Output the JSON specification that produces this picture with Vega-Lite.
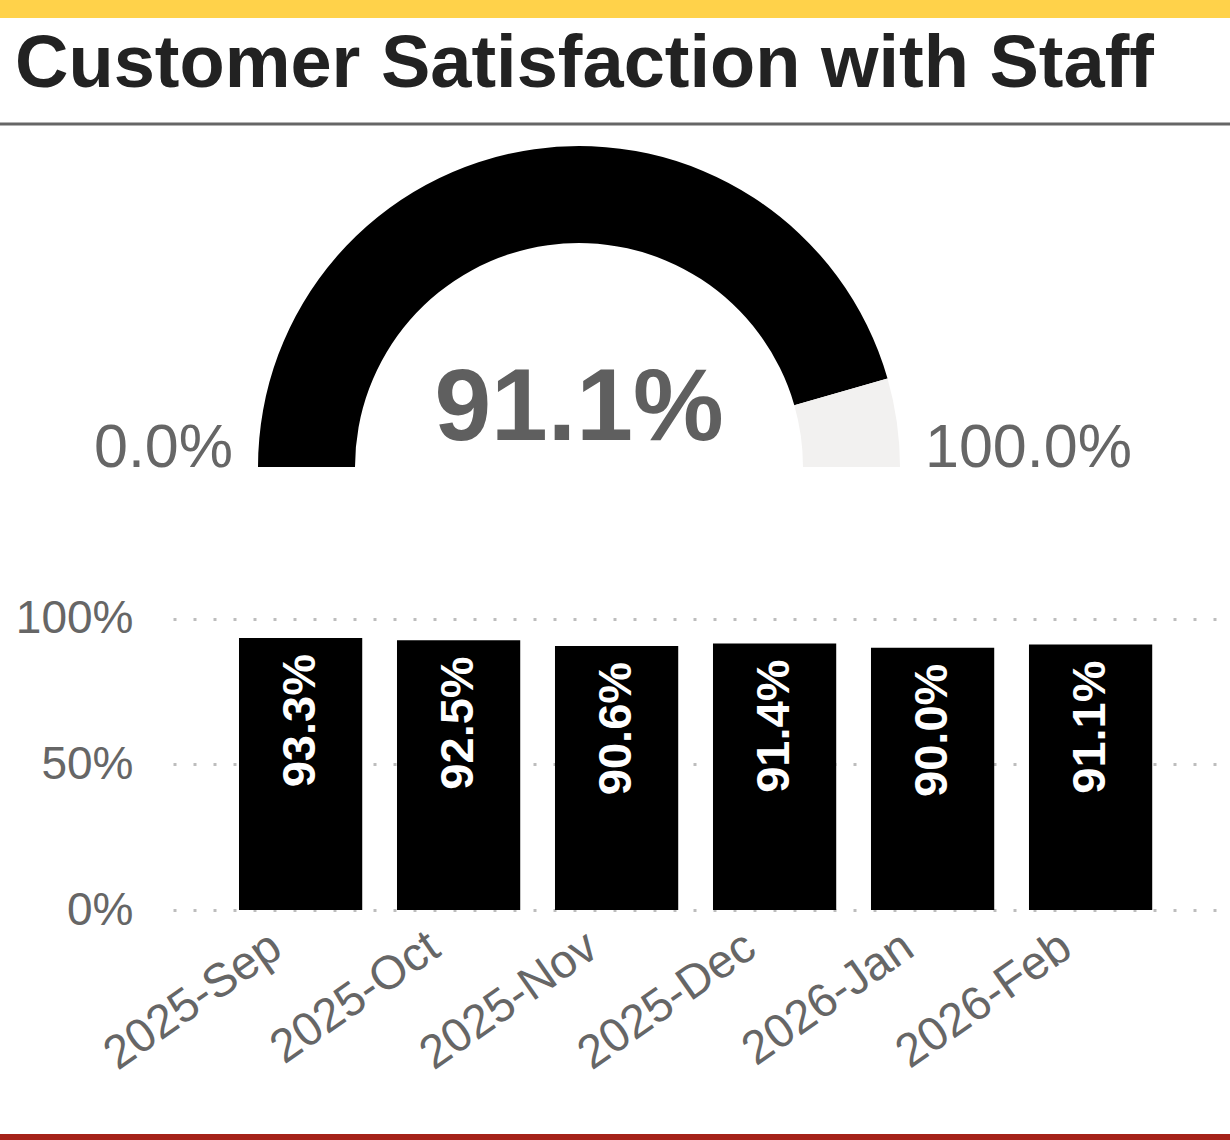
{
  "$schema": "https://vega.github.io/schema/vega-lite/v6.json",
  "width": 1230,
  "height": 1140,
  "padding": 0,
  "autosize": {"type": "none"},
  "background": "#ffffff",
  "config": {"view": {"stroke": null}, "font": "Liberation Sans"},
  "layer": [
    {
      "data": {"values": [{"title": "Customer Satisfaction with Staff"}]},
      "layer": [
        {
          "mark": {"type": "rect", "color": "#FFD24A"},
          "encoding": {
            "x": {"datum": 0, "type": "quantitative", "scale": {"domain": [0, 1]}, "axis": null},
            "x2": {"datum": 1},
            "y": {"datum": 1, "type": "quantitative", "scale": {"domain": [0, 1]}, "axis": null},
            "y2": {"datum": 0.9842}
          }
        },
        {
          "mark": {"type": "rule", "color": "#666666", "strokeWidth": 3},
          "encoding": {
            "x": {"datum": 0, "type": "quantitative", "scale": {"domain": [0, 1]}, "axis": null},
            "x2": {"datum": 1},
            "y": {"datum": 0.8912, "type": "quantitative", "scale": {"domain": [0, 1]}, "axis": null}
          }
        },
        {
          "mark": {"type": "rect", "color": "#A52219"},
          "encoding": {
            "x": {"datum": 0, "type": "quantitative", "scale": {"domain": [0, 1]}, "axis": null},
            "x2": {"datum": 1},
            "y": {"datum": 0, "type": "quantitative", "scale": {"domain": [0, 1]}, "axis": null},
            "y2": {"datum": 0.0053}
          }
        },
        {
          "mark": {"type": "text", "align": "left", "baseline": "alphabetic", "fontSize": 74, "fontWeight": "bold", "color": "#222222"},
          "encoding": {
            "x": {"datum": 0.0122, "type": "quantitative", "scale": {"domain": [0, 1]}, "axis": null},
            "y": {"datum": 0.9237, "type": "quantitative", "scale": {"domain": [0, 1]}, "axis": null},
            "text": {"field": "title", "type": "nominal"}
          }
        }
      ]
    },
    {
      "data": {"values": [{"part": "Achieved", "value": 0.911}, {"part": "Remaining", "value": 0.089}]},
      "layer": [
        {
          "mark": {"type": "arc", "radius": 321, "radius2": 224},
          "encoding": {
            "x": {"datum": 0.5, "type": "quantitative", "scale": {"domain": [0, 1], "range": [258, 900]}, "axis": null},
            "y": {"datum": 0, "type": "quantitative", "scale": {"domain": [0, 1], "range": [467, 146]}, "axis": null},
            "theta": {"field": "value", "type": "quantitative", "stack": true, "scale": {"domain": [0, 1], "range": [-1.5708, 1.5708]}},
            "color": {"field": "part", "type": "nominal", "scale": {"domain": ["Achieved", "Remaining"], "range": ["#000000", "#F2F1F0"]}, "legend": null},
            "order": {"field": "value", "type": "quantitative", "sort": "descending"}
          }
        },
        {
          "transform": [{"filter": "datum.part === 'Achieved'"}],
          "mark": {"type": "text", "fontSize": 102, "fontWeight": "bold", "color": "#5f5f5f", "baseline": "alphabetic", "align": "center", "dy": -27},
          "encoding": {
            "x": {"datum": 0.5, "type": "quantitative", "scale": {"domain": [0, 1], "range": [258, 900]}, "axis": null},
            "y": {"datum": 0, "type": "quantitative", "scale": {"domain": [0, 1], "range": [467, 146]}, "axis": null},
            "text": {"field": "value", "type": "quantitative", "format": ".1%"}
          }
        },
        {
          "data": {"values": [{"bound": 0}, {"bound": 1}]},
          "mark": {
            "type": "text",
            "fontSize": 61,
            "color": "#666666",
            "baseline": "alphabetic",
            "align": {"expr": "datum.bound === 0 ? 'right' : 'left'"},
            "dx": {"expr": "datum.bound === 0 ? -25 : 25"}
          },
          "encoding": {
            "x": {"field": "bound", "type": "quantitative", "scale": {"domain": [0, 1], "range": [258, 900]}, "axis": null},
            "y": {"datum": 0, "type": "quantitative", "scale": {"domain": [0, 1], "range": [467, 146]}, "axis": null},
            "text": {"field": "bound", "type": "quantitative", "format": ".1%"}
          }
        }
      ]
    },
    {
      "data": {
        "values": [
          {"month": "2025-Sep", "value": 0.933},
          {"month": "2025-Oct", "value": 0.925},
          {"month": "2025-Nov", "value": 0.906},
          {"month": "2025-Dec", "value": 0.914},
          {"month": "2026-Jan", "value": 0.900},
          {"month": "2026-Feb", "value": 0.911}
        ]
      },
      "encoding": {
        "x": {
          "field": "month",
          "type": "ordinal",
          "sort": null,
          "scale": {"range": [173, 1230], "paddingInner": 0.22, "paddingOuter": 0.455, "align": 0.459},
          "axis": {
            "orient": "bottom",
            "offset": -230,
            "domain": false,
            "ticks": false,
            "grid": false,
            "labelAngle": -35,
            "labelAlign": "right",
            "labelBaseline": "middle",
            "labelPadding": 32,
            "labelOffset": -24,
            "labelLimit": 0,
            "labelFontSize": 47,
            "labelColor": "#666666",
            "labelOverlap": false,
            "title": null
          }
        },
        "y": {
          "field": "value",
          "type": "quantitative",
          "scale": {"domain": [0, 1], "range": [910, 618.5]},
          "axis": {
            "orient": "left",
            "offset": -133,
            "values": [0, 0.5, 1],
            "format": ".0%",
            "domain": false,
            "ticks": false,
            "labelPadding": 0,
            "labelFontSize": 46,
            "labelColor": "#666666",
            "title": null,
            "grid": true,
            "gridColor": "#bdbdbd",
            "gridDash": [3, 17],
            "gridWidth": 3
          }
        }
      },
      "layer": [
        {"mark": {"type": "bar", "color": "#000000"}},
        {
          "mark": {"type": "text", "angle": 270, "align": "right", "baseline": "middle", "dx": -16, "fontSize": 47, "fontWeight": "bold", "color": "#ffffff"},
          "encoding": {"text": {"field": "value", "type": "quantitative", "format": ".1%"}}
        }
      ]
    }
  ],
  "resolve": {"scale": {"x": "independent", "y": "independent"}}
}
